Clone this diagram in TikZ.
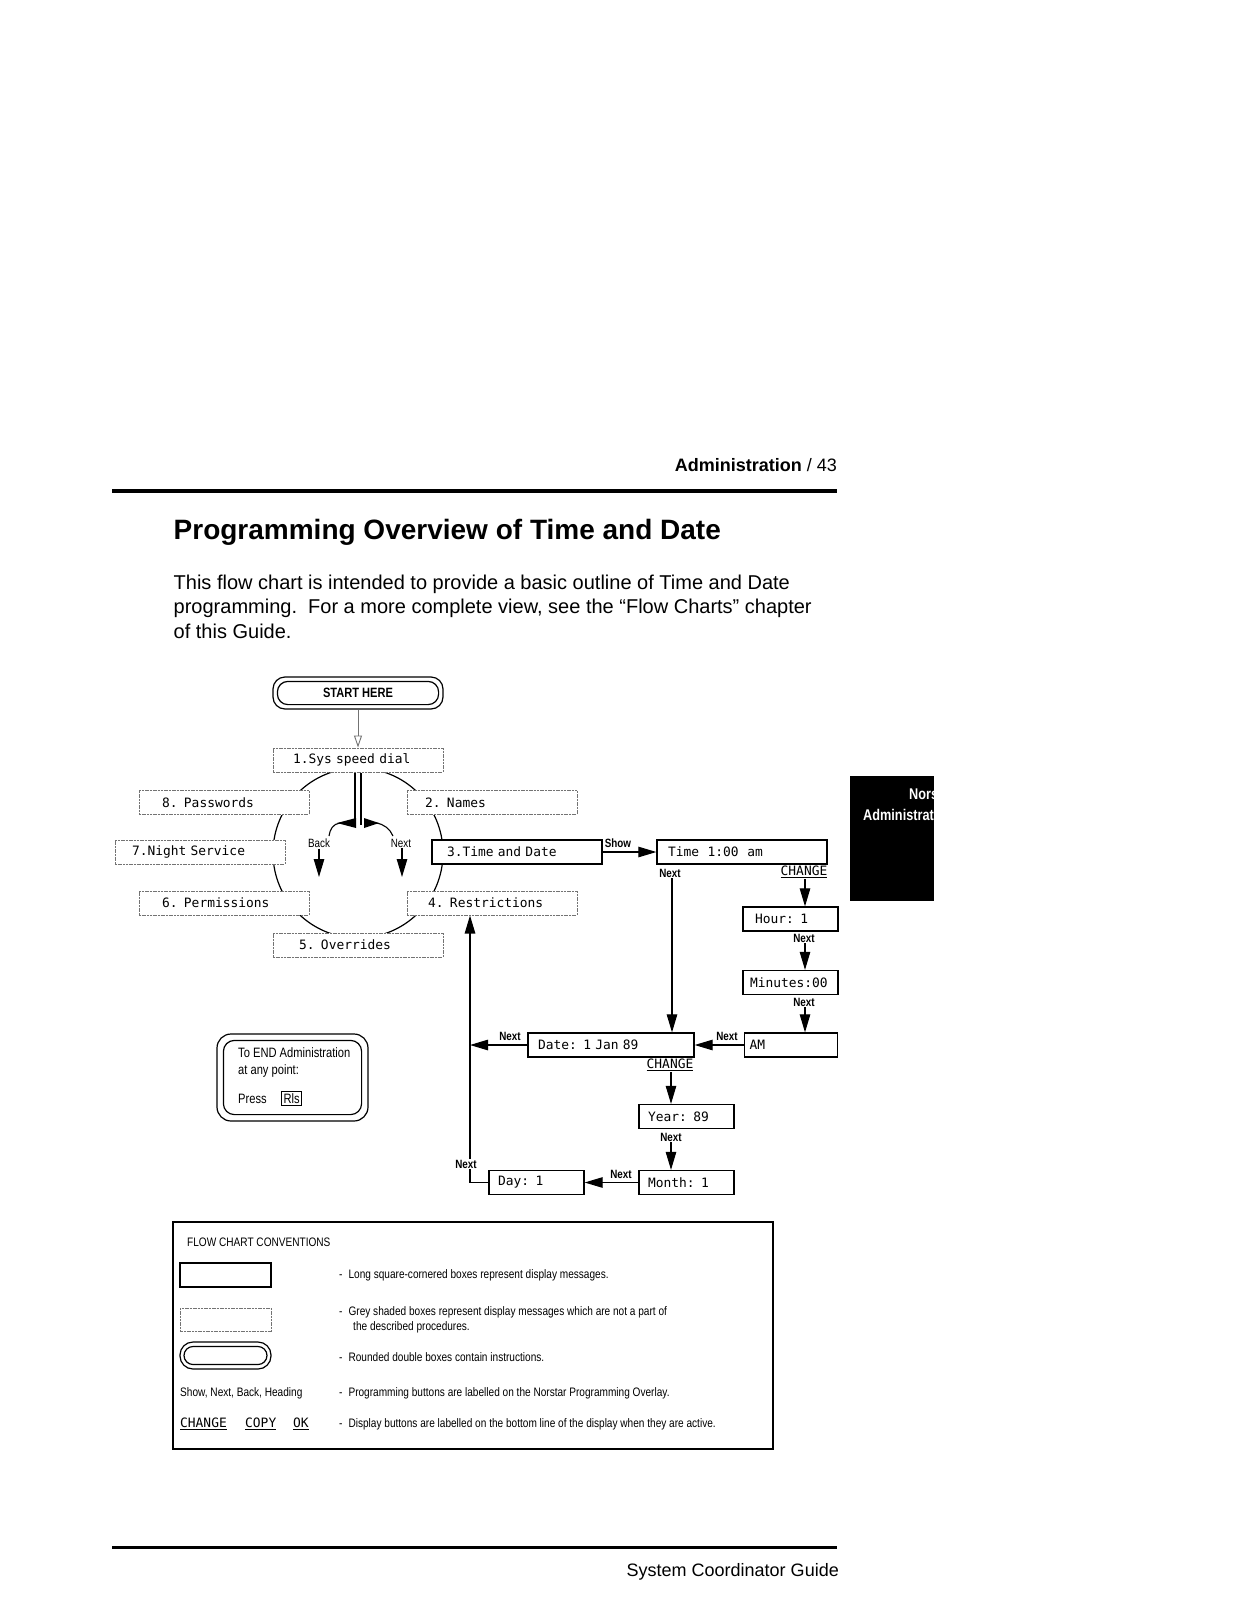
\documentclass[tikz,border=0pt]{standalone}
\usepackage{fontspec}
\setmainfont{Liberation Sans}
\newfontfamily\narrowfont[FakeStretch=0.82]{Liberation Sans}
\newfontfamily\lcdfont{DejaVu Sans Mono}
\usetikzlibrary{arrows.meta}
\tikzset{
  lcd/.style={font=\lcdfont\fontsize{12.9}{14}\selectfont},
  gbox/.style={draw=black!55, line width=1pt, dash pattern=on 2pt off 0.7pt, fill=white,
    minimum height=24pt, inner ysep=0pt, align=left, lcd},
  sbox/.style={draw=black, line width=1.3pt, fill=white,
    minimum height=24pt, inner ysep=0pt, align=left, lcd},
  btn/.style={font=\narrowfont\bfseries\fontsize{12}{14}\selectfont, inner sep=1pt},
  btnr/.style={font=\narrowfont\fontsize{12}{14}\selectfont, inner sep=1pt},
  chg/.style={lcd, inner sep=1pt},
  arr/.style={line width=1.1pt, -{Triangle[length=18pt,width=10.5pt]}},
  lnk/.style={line width=1.1pt},
  conv/.style={font=\narrowfont\fontsize{12.3}{14}\selectfont, inner sep=0pt, anchor=west},
  dbl/.style={draw, line width=1.2pt, fill=white, inner sep=0pt},
  endtxt/.style={anchor=base west, font=\narrowfont\fontsize{13.6}{15}\selectfont, inner sep=0pt},
}
\begin{document}
\begin{tikzpicture}[x=1pt,y=-1pt]
\useasboundingbox (0,0) rectangle (1237,1600);
\fill[white] (0,0) rectangle (1237,1600);

% ---------- page header ----------
\node[anchor=base east, font=\fontsize{18}{20}\selectfont, inner sep=0pt] (hdr) at (837,471.5)
  {\textbf{Administration} / 43};
\fill (112,489) rectangle (837,493);
\node[anchor=base west, font=\bfseries\fontsize{28}{32}\selectfont, inner sep=0pt] (title) at (173.5,539)
  {Programming Overview of Time and Date};
\node[anchor=base west, font=\fontsize{20}{24}\selectfont, inner sep=0pt] (p1) at (173.5,589)
  {This flow chart is intended to provide a basic outline of Time and Date};
\node[anchor=base west, font=\fontsize{20}{24}\selectfont, inner sep=0pt] (p2) at (173.5,613.5)
  {programming.\ \ For a more complete view, see the “Flow Charts” chapter};
\node[anchor=base west, font=\fontsize{20}{24}\selectfont, inner sep=0pt] (p3) at (173.5,638)
  {of this Guide.};

% ---------- side tab ----------
\fill (850,776) rectangle (934,901);
\begin{scope}
  \clip (850,776) rectangle (934,901);
  \node[anchor=base west, text=white, font=\narrowfont\bfseries\fontsize{15.5}{17}\selectfont, inner sep=0pt]
    (tab1) at (909,799) {Nors};
  \node[anchor=base west, text=white, font=\narrowfont\bfseries\fontsize{15.5}{17}\selectfont, inner sep=0pt]
    (tab2) at (863,820) {Administrat};
\end{scope}

% ---------- circle and centre arrows ----------
\draw[line width=1.2pt] (358,853) circle[radius=85pt];

% START HERE
\node[dbl, rounded corners=12pt, minimum width=170pt, minimum height=32pt,
      font=\narrowfont\bfseries\fontsize{13.5}{15}\selectfont] (start) at (358,693) {START HERE};
\draw[line width=1.2pt, rounded corners=10.5pt]
  ([shift={(5,-5)}]start.south west) rectangle ([shift={(-5,5)}]start.north east);

% boxes of the circle
\node[gbox, text width=130pt, inner xsep=20pt] (s1) at (358,760) {1.Sys speed dial};
\node[gbox, text width=124pt, inner xsep=23pt] (s8) at (224,802.5) {8. Passwords};
\node[gbox, text width=134pt, inner xsep=18pt] (s2) at (492,802.5) {2. Names};
\node[gbox, text width=136pt, inner xsep=17pt] (s7) at (200,852) {7.Night Service};
\node[sbox, text width=140pt, inner xsep=15pt] (s3) at (517,852) {3.Time and Date};
\node[gbox, text width=124pt, inner xsep=23pt] (s6) at (224,903) {6. Permissions};
\node[gbox, text width=128pt, inner xsep=21pt] (s4) at (492,903) {4. Restrictions};
\node[gbox, text width=118pt, inner xsep=26pt] (s5) at (358,945) {5. Overrides};

\draw[black!55, line width=0.9pt, -{Triangle[open,length=12pt,width=8pt]}] (start.south) -- (s1.north);

% double line and curved back / next arrows
\draw[lnk] ([xshift=-3pt]s1.south) -- ++(0,52);
\draw[lnk] ([xshift=3pt]s1.south) -- ++(0,52);
\fill (337,823) -- (356,818) -- (356,828) -- cycle;
\draw[lnk] (340,823) .. controls (333,824) and (330,829) .. (329,836);
\fill (379,823) -- (364,818) -- (364,828) -- cycle;
\draw[lnk] (376,823) .. controls (384,824) and (390,829) .. (393,836);

\node[btnr] (back) at (319,843) {Back};
\node[btnr] (nxt) at (401,843) {Next};
\coordinate (backend) at (319,877);
\coordinate (nxtend) at (402,877);
\draw[arr] (back.south) -- (backend);
\draw[arr] ([xshift=1pt]nxt.south) -- (nxtend);

% ---------- time and date procedure ----------
\node[sbox, text width=148pt, inner xsep=11pt] (time) at (742,852) {Time\ \ 1:00\ \ am};
\node[sbox, text width=71pt, inner xsep=12pt] (hour) at (790.5,919) {Hour: 1};
\node[sbox, text width=81pt, inner xsep=7pt] (minu) at (790.5,982.5) {Minutes:00};
\node[sbox, text width=83pt, inner xsep=5pt] (am) at (791,1045) {AM};
\node[sbox, text width=146pt, inner xsep=10pt] (date) at (611,1045) {Date: 1 Jan 89};
\node[sbox, text width=77pt, inner xsep=9pt] (year) at (686.5,1116.5) {Year: 89};
\node[sbox, text width=77pt, inner xsep=9pt] (month) at (686.5,1182.5) {Month: 1};
\node[sbox, text width=77pt, inner xsep=9pt] (day) at (536.5,1182.5) {Day: 1};

\node[btn] (nshow) at (618,843) {Show};
\draw[arr] (s3.east) -- (time.west);

\node[btn] (nt) at (670,873) {Next};
\draw[arr] ([xshift=2pt]nt.south) -- ([xshift=2pt]nt.south |- date.north);

\node[chg] (chg1) at (804,872) {\underline{CHANGE}};
\draw[arr] ([xshift=1pt]chg1.south) -- ([xshift=1pt]chg1.south |- hour.north);

\node[btn] (nh) at (804,938) {Next};
\draw[arr] ([xshift=1pt]nh.south) -- ([xshift=1pt]nh.south |- minu.north);

\node[btn] (nm) at (804,1002) {Next};
\draw[arr] ([xshift=1pt]nm.south) -- ([xshift=1pt]nm.south |- am.north);

\node[btn] (nam) at (727,1036) {Next};
\draw[arr] (am.west) -- (date.east);

\node[btn] (nd) at (510,1036) {Next};
\draw[arr] (date.west) -- ([xshift=-22pt]s4.south |- date.west);

\node[chg] (chg2) at (670,1065) {\underline{CHANGE}};
\draw[arr] ([xshift=1pt]chg2.south) -- ([xshift=1pt]chg2.south |- year.north);

\node[btn] (ny) at (671,1137) {Next};
\draw[arr] (ny.south) -- (ny.south |- month.north);

\node[btn] (nmo) at (621,1174) {Next};
\draw[arr] (month.west) -- (day.east);

\draw[arr] (day.west) -| ([xshift=-22pt]s4.south);
\node[btn, fill=white] (nday) at (466,1164) {Next};

% ---------- END box ----------
\node[dbl, rounded corners=14pt, minimum width=151pt, minimum height=87pt] (endbox) at (292.5,1077.5) {};
\draw[line width=1.2pt, rounded corners=11pt]
  ([shift={(7,-7)}]endbox.south west) rectangle ([shift={(-7,7)}]endbox.north east);
\node[endtxt] (e1) at (238,1057) {To END Administration};
\node[endtxt] (e2) at (238,1074) {at any point:};
\node[endtxt] (e3) at (238,1103) {Press};
\node[endtxt, draw, line width=1pt, inner sep=2pt] (rls) at (281,1103) {Rls};

% ---------- conventions ----------
\draw[line width=1.1pt] (173,1222) rectangle (773,1449);
\node[conv] (ct) at (187,1242) {FLOW CHART CONVENTIONS};
\draw[line width=1.3pt] (180,1263) rectangle (271,1287);
\draw[black!55, line width=1pt, dash pattern=on 2pt off 0.7pt] (180,1308) rectangle (271,1331);
\draw[line width=1.2pt, rounded corners=13pt] (180,1342) rectangle (271,1369);
\draw[line width=1.2pt, rounded corners=9pt] (184,1346.5) rectangle (267,1364.5);
\node[conv] (c1) at (339,1275) {-\hspace{6pt}Long square-cornered boxes represent display messages.};
\node[conv] (c2) at (339,1312) {-\hspace{6pt}Grey shaded boxes represent display messages which are not a part of};
\node[conv] (c2b) at (353,1327) {the described procedures.};
\node[conv] (c3) at (339,1357) {-\hspace{6pt}Rounded double boxes contain instructions.};
\node[conv] (c4l) at (180,1393) {Show, Next, Back, Heading};
\node[conv] (c4) at (339,1393) {-\hspace{6pt}Programming buttons are labelled on the Norstar Programming Overlay.};
\node[chg, anchor=west, inner sep=0pt] (cc) at (180,1424) {\underline{CHANGE}};
\node[chg, anchor=west, inner sep=0pt] (cp) at (245,1424) {\underline{COPY}};
\node[chg, anchor=west, inner sep=0pt] (ok) at (293,1424) {\underline{OK}};
\node[conv] (c5) at (339,1424) {-\hspace{6pt}Display buttons are labelled on the bottom line of the display when they are active.};

% ---------- footer ----------
\fill (112,1546) rectangle (837,1548.5);
\node[anchor=base east, font=\fontsize{18}{20}\selectfont, inner sep=0pt] (ftr) at (839,1576) {System Coordinator Guide};
\end{tikzpicture}
\end{document}
